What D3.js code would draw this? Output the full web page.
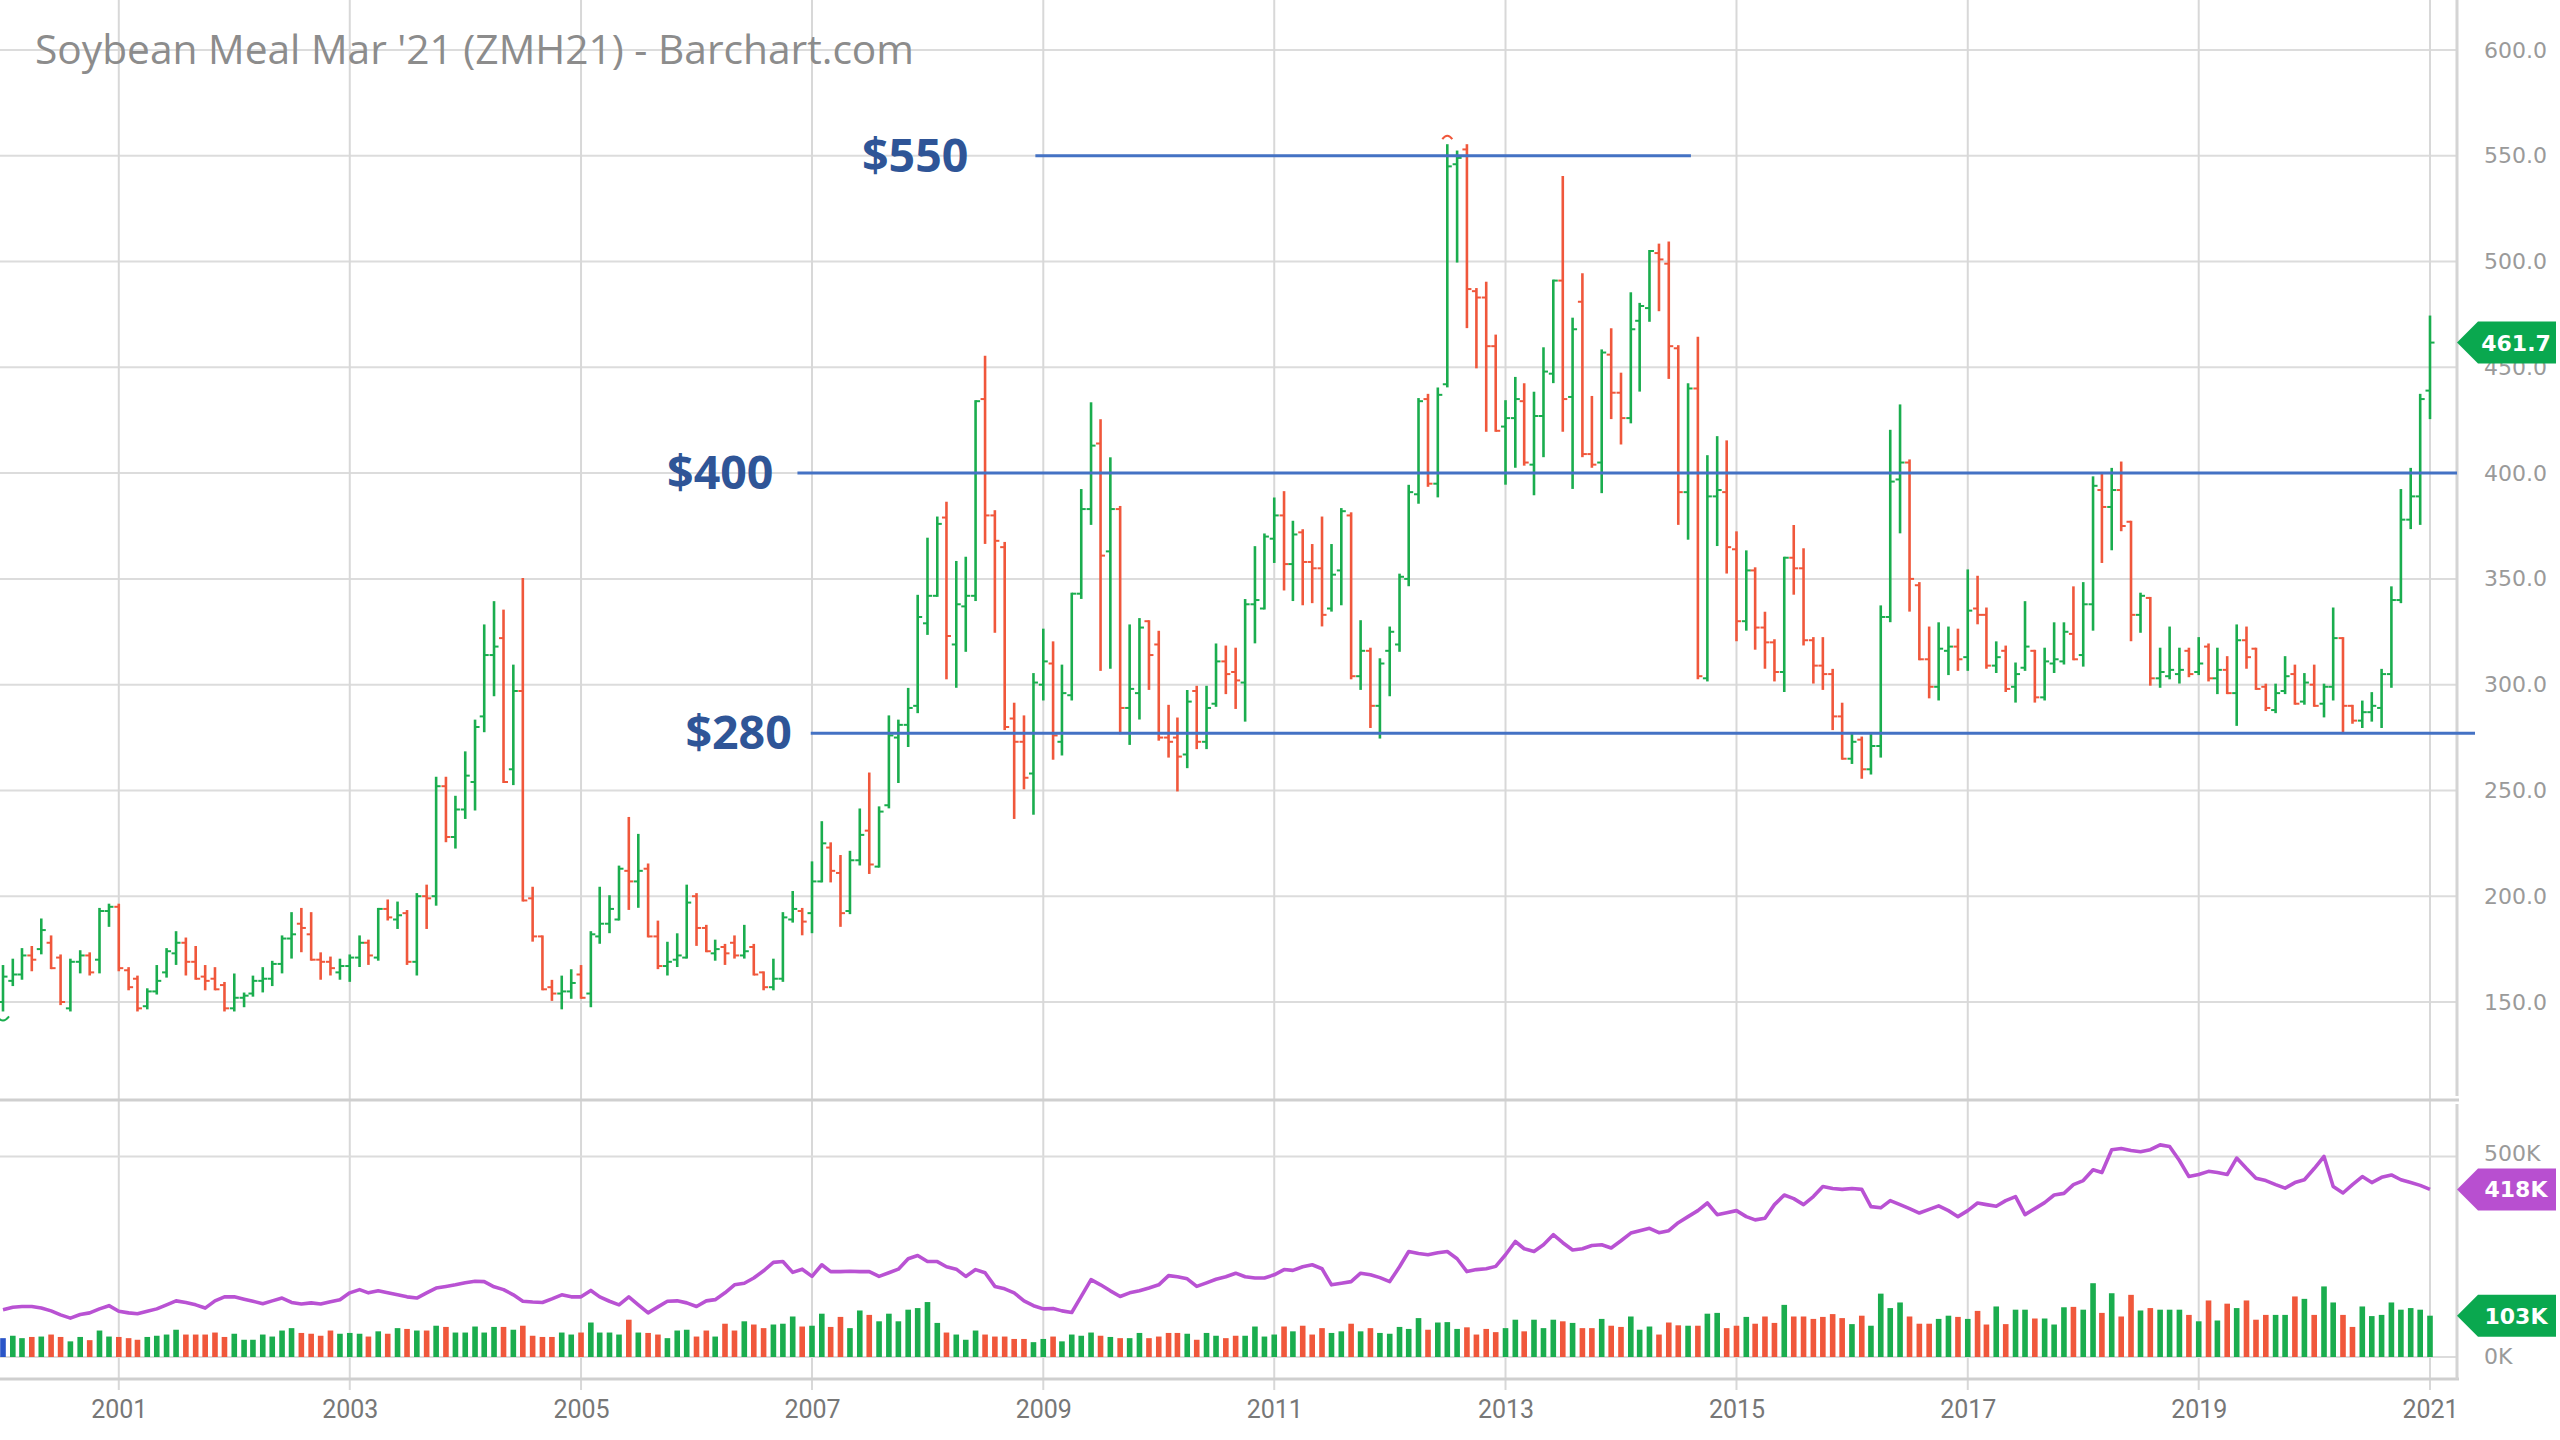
<!DOCTYPE html>
<html><head><meta charset="utf-8">
<script src="https://cdn.jsdelivr.net/npm/d3@7/dist/d3.min.js"></script>
<style>html,body{margin:0;padding:0;background:#fff;} svg{display:block}</style>
</head><body>
<svg id="chart" width="2560" height="1440"></svg>
<script>
// ---- DATA (monthly bars, Jan 2000 .. Jan 2021) ----
const title = "Soybean Meal Mar '21 (ZMH21) - Barchart.com";
const firstYear = 2000;
const opens = [
150,160,163,172,175,178,171,147,169,172,170,193,
195,165,161,148,155,164,173,178,169,162,161,158,
147,152,154,160,161,168,180,187,182,170,169,164,
167,171,178,171,194,189,192,169,200,200,252,228,
241,254,285,314,322,260,297,199,181,157,154,155,
163,154,181,187,189,212,207,213,181,167,170,171,
200,185,173,176,178,172,176,164,157,161,189,193,
192,207,223,211,193,217,231,214,243,275,281,290,
329,342,379,319,337,342,435,380,365,284,273,258,
300,310,273,295,343,383,414,363,383,289,296,330,
319,275,275,267,297,273,291,311,306,301,338,336,
369,380,357,372,358,355,336,354,380,304,316,290,
316,319,350,390,435,395,442,546,553,486,483,460,
422,426,434,404,427,447,491,436,481,409,405,456,
438,426,472,478,504,499,459,391,440,303,389,391,
364,330,354,327,320,306,360,355,321,309,305,285,
265,274,260,271,332,397,405,347,312,299,316,318,
313,336,333,309,316,299,308,316,294,310,311,324,
314,338,392,384,392,377,333,341,303,304,305,316,
306,318,303,307,296,321,317,299,288,297,305,292,
300,291,299,322,290,283,287,289,305,340,378,389,
439];
const highs = [
167,170,175,176,189,181,172,170,174,173,194,196,
196,166,162,156,167,175,183,180,176,167,166,159,
163,154,162,166,169,181,192,194,192,173,171,170,
172,181,179,194,198,197,193,201,205,256,256,247,
268,283,328,339,335,309,350,204,181,160,162,165,
167,183,204,200,214,237,229,215,188,178,182,205,
201,186,179,177,181,186,177,164,170,192,202,194,
216,235,225,219,221,241,258,242,285,283,298,342,
369,379,386,358,360,434,455,382,367,291,285,305,
326,320,309,343,392,433,425,407,384,328,331,330,
325,290,284,297,299,299,319,318,317,340,365,371,
388,391,377,373,366,379,366,383,381,330,317,312,
327,352,394,435,437,440,555,552,555,487,490,465,
434,445,442,438,459,491,540,473,494,436,458,468,
447,485,480,505,508,509,460,442,464,408,417,415,
372,363,355,334,321,360,375,364,322,322,307,291,
277,275,277,337,420,432,406,348,327,329,327,326,
354,351,336,320,318,310,339,316,317,329,329,346,
348,398,400,402,405,377,343,341,317,327,317,317,
322,319,317,313,328,327,317,300,300,313,309,305,
309,300,336,322,290,292,296,307,346,392,402,437,
474];
const lows = [
146,158,161,165,173,166,149,146,164,163,164,186,
165,156,146,147,154,162,168,163,161,156,156,146,
146,148,153,155,158,164,171,174,170,161,163,161,
160,167,168,170,189,185,168,163,185,196,226,223,
237,241,278,295,254,253,198,179,156,151,147,152,
152,148,178,183,189,194,195,181,166,163,167,171,
177,174,170,168,171,171,163,156,156,160,188,182,
183,207,207,186,192,215,211,214,242,254,271,287,
324,342,303,299,316,340,367,325,279,237,251,239,
293,265,267,293,341,376,307,308,277,272,284,298,
274,266,250,261,270,270,290,296,289,283,320,336,
358,345,340,338,339,328,335,338,303,298,280,275,
295,316,347,386,394,389,441,500,469,450,420,420,
395,403,404,390,408,443,420,393,408,403,391,426,
414,424,439,472,477,445,376,369,303,302,366,353,
321,326,317,308,302,297,343,319,301,298,279,265,
263,256,258,266,330,372,335,312,294,293,305,307,
307,329,308,306,297,292,307,292,293,306,310,312,
309,326,358,364,373,321,325,300,299,303,301,304,
305,302,296,296,281,308,298,288,287,296,291,291,
290,285,293,278,282,280,283,280,299,339,374,376,
426];
const closes = [
162,163,172,170,184,166,150,169,172,164,193,195,
166,157,147,155,160,174,178,169,161,160,156,147,
152,153,160,161,168,180,182,185,170,169,166,167,
171,178,172,194,190,191,169,200,199,252,228,241,
257,280,314,318,254,297,198,181,156,154,155,159,
152,182,187,194,213,207,212,181,167,169,172,197,
185,174,175,173,172,174,163,157,161,190,194,188,
207,225,212,192,217,229,215,240,276,281,289,332,
342,376,323,338,342,434,380,368,280,273,256,301,
311,276,296,343,383,413,361,383,289,298,327,314,
275,273,266,292,273,289,311,305,302,338,340,370,
380,357,371,358,355,333,352,382,304,316,290,310,
325,351,391,434,395,437,545,549,487,483,460,420,
426,435,405,427,448,491,435,468,409,404,457,438,
426,468,479,505,501,460,391,440,304,389,392,365,
330,354,327,320,306,360,355,321,309,305,285,265,
273,260,271,332,396,405,350,312,299,317,318,312,
335,333,309,313,298,305,318,294,311,312,325,312,
338,394,384,392,375,333,342,303,306,307,307,305,
310,303,307,296,321,313,298,289,296,304,291,301,
290,299,322,290,283,287,290,305,340,378,389,435,
461.7];
const volumeK = [
47,53,47,50,51,56,50,39,50,42,66,51,
50,47,43,50,53,56,68,56,56,56,61,50,
58,43,43,56,51,66,72,60,58,53,66,58,
60,58,51,64,58,72,70,66,66,78,75,61,
61,76,61,75,75,68,78,53,50,50,61,56,
61,86,61,61,56,93,61,60,56,47,66,68,
51,66,51,83,66,89,81,72,81,83,101,76,
78,108,75,100,72,116,105,89,108,89,118,122,
137,85,61,56,43,66,56,51,51,45,45,37,
45,51,39,56,53,61,53,50,47,47,60,47,
51,60,60,58,43,60,53,47,53,53,76,51,
56,76,64,78,56,72,60,64,83,64,72,60,
58,75,70,97,68,86,87,70,74,56,70,62,
72,93,64,93,72,93,89,85,72,72,95,78,
75,101,68,76,56,86,79,78,78,108,110,72,
78,100,83,101,85,130,101,101,95,100,107,97,
82,103,78,158,122,136,101,83,83,95,103,100,
95,115,81,126,82,118,118,96,96,81,124,125,
118,184,110,159,101,155,116,122,118,118,118,105,
89,141,91,133,122,141,93,105,105,105,151,145,
105,176,136,105,75,126,102,105,136,118,122,118,
103];
const openInterestK = [
118,124,126,126,122,115,105,97,106,110,120,128,
114,110,108,114,120,130,140,136,130,122,140,150,
150,144,139,133,140,147,136,132,135,132,138,143,
160,168,160,165,160,155,150,147,160,172,176,180,
185,189,188,175,168,155,139,137,136,145,155,150,
150,166,150,139,130,150,130,110,125,139,140,135,
126,140,143,160,180,184,197,215,236,238,211,219,
201,230,213,213,214,213,213,201,210,219,245,253,
238,238,225,219,201,218,210,176,170,160,140,128,
120,121,115,111,151,193,180,165,151,160,165,172,
180,203,200,195,176,185,194,200,209,200,197,197,
205,218,216,225,230,220,180,184,188,209,205,198,
188,225,263,258,255,260,263,245,213,218,220,226,
255,288,270,263,280,305,285,267,270,278,280,272,
290,309,315,321,310,315,335,350,365,384,355,360,
365,350,342,346,380,404,395,380,400,425,420,418,
420,418,375,372,390,380,370,359,368,377,365,350,
365,384,380,376,390,400,355,370,385,404,408,430,
440,467,460,517,520,515,512,517,529,525,490,450,
455,463,460,455,496,470,446,440,430,421,435,442,
470,500,425,409,430,450,435,448,454,442,435,428,
418];
const priceTicks = [150,200,250,300,350,400,450,500,550,600];
const volumeTicks = [0,500];
const yearTicks = [2001,2003,2005,2007,2009,2011,2013,2015,2017,2019,2021];
const levelValues = [550, 400, 277];
const levelLabels = ["$550", "$400", "$280"];

// ---- DRAWING ----
const svg = d3.select("#chart");
const GREEN = "#1aad4e", RED = "#f0573b", BLUE_BAR = "#2a55c8";
const plotRight = 2457;
const dates = opens.map((_, i) => new Date(firstYear, i, 1));
const bars = opens.map((o, i) => ({date: dates[i], o, h: highs[i], l: lows[i], c: closes[i],
  v: volumeK[i], oi: openInterestK[i], up: closes[i] >= o}));

const x = d3.scaleTime().domain([new Date(2000,0,1), new Date(2021,0,1)]).range([3, 2430]);
const y = d3.scaleLinear().domain([150, 600]).range([1002, 50]);
const yv = d3.scaleLinear().domain([0, 500]).range([1357, 1156.5]);

svg.append("rect").attr("width",2560).attr("height",1440).attr("fill","#fff");

// grids
const grid = svg.append("g");
grid.selectAll(".hg").data(priceTicks).join("line")
  .attr("x1",0).attr("x2",plotRight).attr("y1",d=>y(d)).attr("y2",d=>y(d))
  .attr("stroke","#dcdcdc").attr("stroke-width",2);
grid.selectAll(".vg").data(yearTicks).join("line")
  .attr("x1",d=>x(new Date(d,0,1))).attr("x2",d=>x(new Date(d,0,1)))
  .attr("y1",0).attr("y2",1390).attr("stroke","#d8d8d8").attr("stroke-width",2);
grid.append("line").attr("x1",0).attr("x2",plotRight).attr("y1",yv(500)).attr("y2",yv(500))
  .attr("stroke","#dcdcdc").attr("stroke-width",2);
grid.append("line").attr("x1",0).attr("x2",plotRight).attr("y1",yv(0)).attr("y2",yv(0))
  .attr("stroke","#dcdcdc").attr("stroke-width",2);
// panel borders
[1100, 1379].forEach(py => grid.append("line").attr("x1",0).attr("x2",plotRight+2)
  .attr("y1",py).attr("y2",py).attr("stroke","#cfcfcf").attr("stroke-width",3));
grid.append("line").attr("x1",plotRight).attr("x2",plotRight).attr("y1",0).attr("y2",1096)
  .attr("stroke","#d4d4d4").attr("stroke-width",3);
grid.append("line").attr("x1",plotRight).attr("x2",plotRight).attr("y1",1104).attr("y2",1379)
  .attr("stroke","#d4d4d4").attr("stroke-width",3);

// title
svg.append("text").attr("x",35).attr("y",64).text(title)
  .attr("font-family","'Open Sans'").attr("font-size",40.7).attr("fill","#8c8c8c");

// volume bars
svg.append("g").selectAll("rect").data(bars).join("rect")
  .attr("x",d=>x(d.date)-2.8).attr("width",5.6)
  .attr("y",d=>yv(d.v)).attr("height",d=>yv(0)-yv(d.v))
  .attr("fill",(d,i)=> i===0 ? BLUE_BAR : (d.up?GREEN:RED));

// open interest line
svg.append("path").datum(bars)
  .attr("d", d3.line().x(d=>x(d.date)).y(d=>yv(d.oi)))
  .attr("fill","none").attr("stroke","#b952d3").attr("stroke-width",3.6).attr("stroke-linejoin","round");

// price OHLC bars
const pg = svg.append("g");
const g = pg.selectAll("g").data(bars).join("g")
  .attr("stroke",d=>d.up?GREEN:RED).attr("stroke-width",2.6);
g.append("line").attr("x1",d=>x(d.date)).attr("x2",d=>x(d.date))
  .attr("y1",d=>y(d.h)-1).attr("y2",d=>y(d.l)+1);
g.append("line").attr("x1",d=>x(d.date)-4.5).attr("x2",d=>x(d.date))
  .attr("y1",d=>y(d.o)).attr("y2",d=>y(d.o)).attr("stroke-width",2);
g.append("line").attr("x1",d=>x(d.date)).attr("x2",d=>x(d.date)+4.5)
  .attr("y1",d=>y(d.c)).attr("y2",d=>y(d.c)).attr("stroke-width",2);

// high / low markers
const hiIdx = d3.maxIndex(bars, d=>d.h), loIdx = d3.minIndex(bars, d=>d.l);
{
  const hx = x(bars[hiIdx].date), hy = y(bars[hiIdx].h) - 9;
  svg.append("path").attr("d",`M${hx-5},${hy+3} Q${hx},${hy-4} ${hx+5},${hy+3}`)
    .attr("fill","none").attr("stroke",RED).attr("stroke-width",2);
  const lx = x(bars[loIdx].date), ly = y(bars[loIdx].l) + 9;
  svg.append("path").attr("d",`M${lx-6},${ly-3} Q${lx},${ly+5} ${lx+6},${ly-3}`)
    .attr("fill","none").attr("stroke",GREEN).attr("stroke-width",2);
}

// annotation levels
const levelStart = [new Date(2008,11,7), new Date(2006,10,16), new Date(2006,11,28)];
const levelEnd = [x(new Date(2014,7,10)), plotRight, plotRight + 18];
const labelGap = [67, 24, 19];
const ann = svg.append("g");
levelValues.forEach((v, i) => {
  const x0 = x(levelStart[i]);
  ann.append("line").attr("x1",x0).attr("x2",levelEnd[i]).attr("y1",y(v)).attr("y2",y(v))
    .attr("stroke","#4472c4").attr("stroke-width",3);
  ann.append("text").attr("x",x0 - labelGap[i]).attr("y",y(v)+16).attr("text-anchor","end")
    .attr("font-family","'Open Sans'").attr("font-weight",700).attr("font-size",46.5)
    .attr("fill","#2f5597").text(levelLabels[i]);
});

// right axes
const axisFont = sel => sel.selectAll("text").attr("font-family","'DejaVu Sans'")
  .attr("font-size",22).attr("fill","#9a9a9a");
svg.append("g").attr("transform",`translate(2484,0)`)
  .call(d3.axisRight(y).tickValues(priceTicks).tickFormat(d3.format(".1f")).tickSize(0).tickPadding(0))
  .call(s=>s.select(".domain").remove()).call(axisFont);
svg.append("g").attr("transform",`translate(2484,0)`)
  .call(d3.axisRight(yv).tickValues(volumeTicks).tickFormat(d=>d+"K").tickSize(0).tickPadding(0))
  .call(s=>s.select(".domain").remove()).call(axisFont)
  .selectAll("text").attr("dy", (d)=> d===500 ? "0.2em" : "0.3em");

// bottom axis
svg.append("g").attr("transform","translate(0,1392)")
  .call(d3.axisBottom(x).tickValues(yearTicks.map(d=>new Date(d,0,1))).tickFormat(d3.timeFormat("%Y")).tickSize(0).tickPadding(8))
  .call(s=>s.select(".domain").remove())
  .selectAll("text").attr("font-family","Roboto").attr("font-size",25).attr("fill","#777");

// badges
function badge(cy, fill, label){
  const gb = svg.append("g");
  gb.append("path").attr("d",`M2457,${cy} L2478,${cy-21} L2556,${cy-21} L2556,${cy+21} L2478,${cy+21} Z`).attr("fill",fill);
  gb.append("text").attr("x",2516).attr("y",cy+8).attr("text-anchor","middle")
    .attr("font-family","'DejaVu Sans'").attr("font-weight",700).attr("font-size",22)
    .attr("fill","#fff").text(label);
}
const last = bars[bars.length-1];
badge(y(last.c), "#0aa84f", d3.format(".1f")(last.c));
badge(yv(last.oi), "#b84fd0", last.oi + "K");
badge(yv(last.v), "#0aa84f", last.v + "K");
</script>
</body></html>
